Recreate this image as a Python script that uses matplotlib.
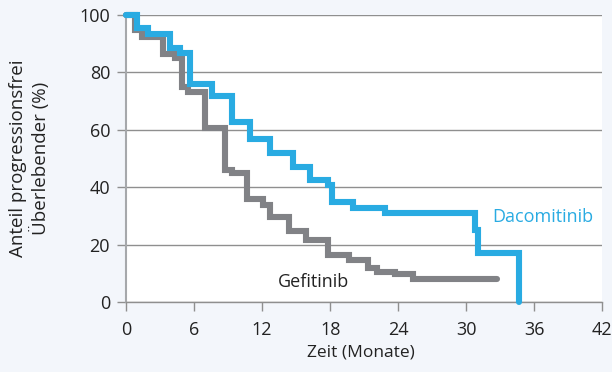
import matplotlib.pyplot as plt

plt.rcParams['font.family'] = ['Open Sans', 'DejaVu Sans']

# Kaplan-Meier Stufen (Monate, % progressionsfrei)
daco_t = [0, 1.0, 1.9, 3.9, 4.8, 5.6, 7.6, 9.3, 10.9, 12.7, 14.7, 16.2, 17.8, 18.2, 20.0, 22.8, 30.75, 31.0, 34.7, 34.7]
daco_s = [100, 95.4, 93.3, 88.5, 86.8, 76.0, 71.8, 62.7, 56.8, 51.9, 47.0, 42.5, 40.8, 34.8, 32.7, 31.0, 25.0, 17.0, 0, 0]

gefi_t = [0, 0.8, 1.4, 3.3, 4.3, 4.9, 5.5, 7.0, 8.7, 9.3, 10.7, 12.1, 12.7, 14.4, 15.9, 17.8, 19.7, 21.3, 22.1, 23.7, 25.3, 32.7]
gefi_s = [100, 94.8, 92.3, 86.4, 85.0, 75.0, 73.0, 60.6, 46.0, 45.0, 36.0, 33.8, 29.5, 24.6, 21.6, 16.4, 14.6, 11.8, 10.5, 9.6, 8.0, 8.0]

xticks = [0, 6, 12, 18, 24, 30, 36, 42]
yticks = [0, 20, 40, 60, 80, 100]

blue = '#29abe2'
grey = '#818286'
bg = '#f3f6fb'
txt = '#222222'

fig = plt.figure(figsize=(6.12, 3.72), dpi=100, facecolor=bg)
ax = fig.add_axes([0.206, 0.188, 0.778, 0.772])
ax.set_facecolor('white')

ax.step(gefi_t, gefi_s, where='post', color=grey, lw=4.4,
        solid_capstyle='round', solid_joinstyle='miter', clip_on=False, zorder=3)
ax.step(daco_t, daco_s, where='post', color=blue, lw=4.4,
        solid_capstyle='round', solid_joinstyle='miter', clip_on=False, zorder=4)

ax.set_xlim(0, 42)
ax.set_ylim(0, 100)
ax.set_xticks(xticks)
ax.set_yticks(yticks)
ax.grid(axis='y', color='#8f8f8f', lw=1.0)
ax.set_axisbelow(True)

for s in ['top', 'right']:
    ax.spines[s].set_visible(False)
ax.spines['left'].set_color('#a6a8ab')
ax.spines['left'].set_linewidth(1.5)
ax.spines['bottom'].set_color('#8f8f8f')
ax.spines['bottom'].set_linewidth(1.0)
ax.tick_params(axis='both', length=6.5, width=1.0, color='#8f8f8f',
               labelsize=13, labelcolor=txt)
ax.tick_params(axis='x', pad=7)
ax.tick_params(axis='y', pad=5)

ax.set_xlabel('Zeit (Monate)', fontsize=12.5, color=txt)
ax.xaxis.set_label_coords(0.494, -0.148)
ax.set_ylabel('Anteil progressionsfrei\nÜberlebender (%)', fontsize=13.5,
              color=txt, linespacing=1.15)
ax.yaxis.set_label_coords(-0.16, 0.5)

ax.text(32.3, 29.5, 'Dacomitinib', color=blue, fontsize=13, va='center', ha='left')
ax.text(13.4, 7.0, 'Gefitinib', color=txt, fontsize=13, va='center', ha='left')

plt.savefig('out.png', dpi=100, facecolor=bg)
